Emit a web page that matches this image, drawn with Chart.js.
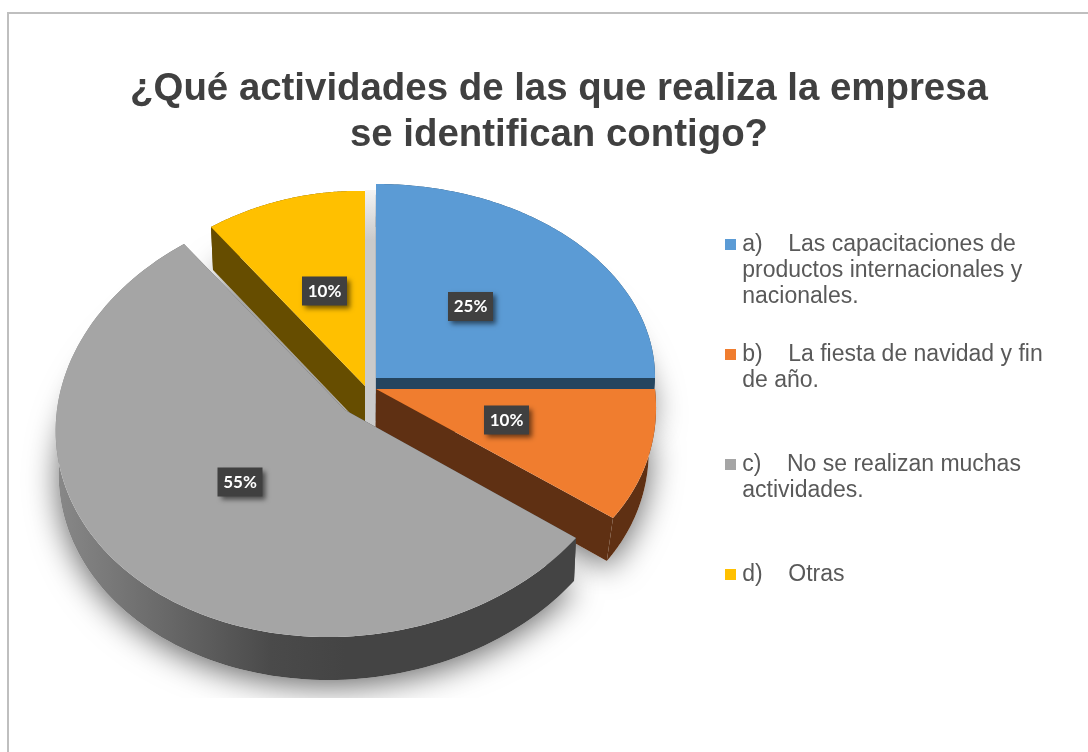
<!DOCTYPE html>
<html><head><meta charset="utf-8">
<script src="https://cdn.jsdelivr.net/npm/chart.js@4"></script>
<style>
html,body{margin:0;padding:0;background:#fff;overflow:hidden}
#wrap{position:relative;width:1088px;height:752px}
canvas{position:absolute;left:0;top:0}
</style></head><body>
<div id="wrap"><canvas id="c" width="1088" height="752"></canvas></div>
<script>
const titleLines = ['¿Qué actividades de las que realiza la empresa','se identifican contigo?'];
const categories = ['a)    Las capacitaciones de productos internacionales y nacionales.','b)    La fiesta de navidad y fin de año.','c)    No se realizan muchas actividades.','d)    Otras'];
const legendLines = [
  ['a)    Las capacitaciones de','productos internacionales y','nacionales.',''],
  ['b)    La fiesta de navidad y fin','de año.','',''],
  ['c)    No se realizan muchas','actividades.','',''],
  ['d)    Otras']
];
const values = [25, 10, 55, 10];
const colors = ['#5b9bd5','#f07d2f','#a5a5a5','#ffc000'];
const wallColors = ['#25455f','#5f3013','#444444','#664d00'];

// Screen placement of each exploded slice: apex + rim points as [clockwise angle in degrees, x, y]
const sliceFrames = [
  {c:[376,378], rim:[[0,376,184],[45,574,241],[90,655,378]], wallDx:0.01},
  {c:[376,389], rim:[[90,655,389],[108,648,458],[126,613,518]], wallDx:0.025},
  {c:[345,410], rim:[[126,576,538],[183,332,637],[272,56,420],[324,184,244]], wallDx:0.0095},
  {c:[365,386], rim:[[324,211,227],[342,287,199],[360,365,191]], wallDx:0.013}
];
const labelCentres = [[470.5,306.5],[506.5,420],[240,482],[324.5,291]];
const wallDepth = 43;
const drawOrder = [0,1,3,2];

function homography(src,dst){
  const A=[];
  for(let i=0;i<4;i++){
    const [x,y]=src[i],[u,v]=dst[i];
    A.push([x,y,1,0,0,0,-u*x,-u*y,u]);
    A.push([0,0,0,x,y,1,-v*x,-v*y,v]);
  }
  for(let i=0;i<8;i++){
    let p=i;for(let r=i+1;r<8;r++)if(Math.abs(A[r][i])>Math.abs(A[p][i]))p=r;
    [A[i],A[p]]=[A[p],A[i]];
    for(let r=0;r<8;r++){if(r===i)continue;const f=A[r][i]/A[i][i];for(let k=i;k<9;k++)A[r][k]-=f*A[i][k];}
  }
  const h=A.map((row,i)=>row[8]/row[i]);
  return (x,y)=>{const w=h[6]*x+h[7]*y+1;return [(h[0]*x+h[1]*y+h[2])/w,(h[3]*x+h[4]*y+h[5])/w];};
}
const unit = d=>{const a=d*Math.PI/180;return [Math.sin(a),-Math.cos(a)];};
const mappers = sliceFrames.map(f=>{
  const src=f.rim.map(r=>unit(r[0])), dst=f.rim.map(r=>[r[1],r[2]]);
  if(src.length<4){src.unshift([0,0]);dst.unshift(f.c);}
  return homography(src,dst);
});

function outline(arc,i){
  // arc angles come from Chart.js (0 at 3 o'clock) -> unit-disc rim through the slice's mapping
  const pts=[sliceFrames[i].c], n=120;
  for(let k=0;k<=n;k++){
    const a=arc.startAngle+(arc.endAngle-arc.startAngle)*k/n;
    pts.push(mappers[i](Math.cos(a),Math.sin(a)));
  }
  return pts;
}
function trace(ctx,pts){ctx.beginPath();pts.forEach((p,k)=>k?ctx.lineTo(p[0],p[1]):ctx.moveTo(p[0],p[1]));ctx.closePath();}
function wallOffset(p,i){return [p[0]+(365-p[0])*sliceFrames[i].wallDx,p[1]+wallDepth];}

const piePainter = {
  id:'piePainter',
  afterLayout(chart){
    const t=chart.titleBlock; t.left=30; t.right=1088; t.top=66;
    const l=chart.legend, pad=l.options.labels.padding; l.left=730.25-pad; l.right=1088; l.top=233-pad; l.bottom=752;
  },
  beforeDatasetDraw(chart,args){
    const ctx=chart.ctx, arcs=chart.getDatasetMeta(args.index).data;
    const shapes=arcs.map((a,i)=>outline(a,i));
    // soft ground shadow
    ctx.save();
    ctx.beginPath();ctx.rect(0,0,1088,698);ctx.clip();
    ctx.shadowColor='rgba(0,0,0,0.6)';ctx.shadowBlur=32;ctx.shadowOffsetY=6;ctx.fillStyle='#fff';
    shapes.forEach((s,i)=>{trace(ctx,s.map(p=>wallOffset(p,i)));ctx.fill();});
    ctx.restore();
    // shadow strip visible in the gap between yellow and blue
    const gap=ctx.createLinearGradient(0,190,0,240);
    gap.addColorStop(0,'#f4f4f4');gap.addColorStop(1,'#cacaca');
    ctx.fillStyle=gap;ctx.fillRect(365,190,12,250);
    drawOrder.forEach(i=>{
      const s=shapes[i];
      let fill=wallColors[i];
      if(i===2){
        const g=ctx.createLinearGradient(50,0,345,0);
        g.addColorStop(0,'#8a8a8a');g.addColorStop(.35,'#6c6c6c');g.addColorStop(.75,'#4a4a4a');g.addColorStop(1,'#444444');
        fill=g;
      }
      ctx.fillStyle=fill;
      const rim=s.slice(1);
      trace(ctx,rim.concat(rim.map(p=>wallOffset(p,i)).reverse()));ctx.fill();
      [[s[0],rim[0]],[s[0],rim[rim.length-1]]].forEach(([a,b])=>{
        trace(ctx,[a,b,wallOffset(b,i),wallOffset(a,i)]);ctx.fill();
      });
      ctx.fillStyle=colors[i];trace(ctx,s);ctx.fill();
    });
    return false;
  },
  afterDatasetsDraw(chart){
    const ctx=chart.ctx,total=values.reduce((a,b)=>a+b,0);
    values.forEach((v,i)=>{
      const [x,y]=labelCentres[i];
      ctx.save();
      ctx.shadowColor='rgba(0,0,0,.55)';ctx.shadowBlur=5;ctx.shadowOffsetX=3;ctx.shadowOffsetY=3;
      ctx.fillStyle='#404040';ctx.fillRect(x-22.5,y-14.5,45,29);
      ctx.restore();
      ctx.fillStyle='#fff';ctx.font='bold 17px Lato';ctx.textAlign='center';ctx.textBaseline='middle';
      ctx.fillText(Math.round(v/total*100)+'%',x,y+.5);
    });
    ctx.strokeStyle='#bfbfbf';ctx.lineWidth=2;
    ctx.beginPath();ctx.moveTo(8,752);ctx.lineTo(8,13);ctx.lineTo(1088,13);ctx.stroke();
  }
};
const swatches = colors.map(c=>{const k=document.createElement('canvas');k.width=11;k.height=11;const x=k.getContext('2d');x.fillStyle=c;x.fillRect(0,0,11,11);return k;});

new Chart(document.getElementById('c'),{
  type:'pie',
  data:{labels:categories,datasets:[{data:values,backgroundColor:colors}]},
  plugins:[piePainter],
  options:{
    responsive:false,animation:false,events:[],
    layout:{padding:0},
    plugins:{
      tooltip:{enabled:false},
      title:{display:true,text:titleLines,color:'#404040',align:'center',padding:0,font:{family:'"Liberation Sans"',size:38.4,weight:'bold',lineHeight:46/38.4}},
      legend:{display:true,position:'right',align:'start',
        labels:{color:'#595959',font:{family:'"Liberation Sans"',size:23,lineHeight:26/23},padding:6,usePointStyle:true,pointStyleWidth:0.5,boxHeight:11,
          generateLabels(){return legendLines.map((t,i)=>({text:t,fontColor:'#595959',fillStyle:colors[i],strokeStyle:colors[i],lineWidth:0,pointStyle:swatches[i],index:i,hidden:false}));}
        }}
    }
  }
});
</script></body></html>
